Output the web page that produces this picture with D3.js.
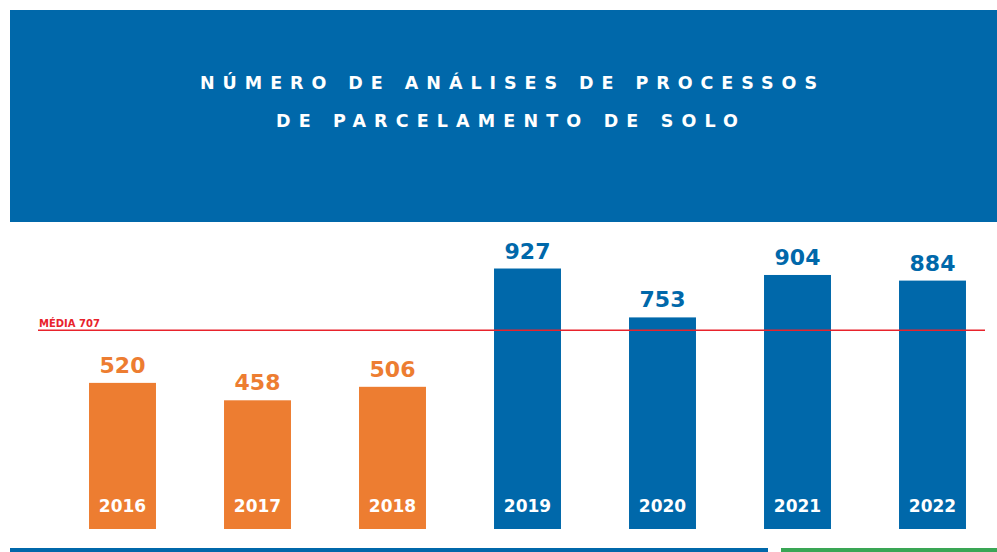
<!DOCTYPE html>
<html>
<head>
<meta charset="utf-8">
<script src="https://cdn.jsdelivr.net/npm/d3@7"></script>
<style>
  html, body { margin: 0; padding: 0; background: #fff; }
  svg { display: block; }
</style>
</head>
<body>
<svg id="chart"></svg>
<script>
var years = ["2016", "2017", "2018", "2019", "2020", "2021", "2022"]
var values = [520, 458, 506, 927, 753, 904, 884]
var average = 707
var titleLines = ["NÚMERO DE ANÁLISES DE PROCESSOS", "DE PARCELAMENTO DE SOLO"]

var w = 997
var h = 552
var blue = "#0068aa"
var orange = "#ed7d31"
var red = "#e8232c"
var font = "'DejaVu Sans', sans-serif"

var svg = d3.select("#chart").attr("width", w).attr("height", h)

// header block
svg.append("rect")
    .attr("x", 10).attr("y", 10)
    .attr("width", w - 10).attr("height", 212)
    .attr("fill", blue)

var titleSpans = [[200, 817, 89], [276, 738, 127]]
svg.selectAll("text.title")
    .data(titleLines)
    .enter().append("text")
    .attr("class", "title")
    .attr("x", function(d, i) { return titleSpans[i][0] })
    .attr("y", function(d, i) { return titleSpans[i][2] })
    .attr("textLength", function(d, i) { return titleSpans[i][1] - titleSpans[i][0] })
    .attr("lengthAdjust", "spacing")
    .attr("fill", "#fff")
    .style("font-family", font)
    .style("font-weight", "bold")
    .style("font-size", "17.5px")
    .text(function(d) { return d })

// scales
var x = d3.scaleBand()
    .domain(years)
    .range([55, 1000])
    .paddingInner(0.504)
    .paddingOuter(0.252)

var y = d3.scaleLinear()
    .domain([0, 1000])
    .range([529, 248])

function barColor(i) { return i < 3 ? orange : blue }

var bars = svg.append("g").attr("class", "bars")

bars.selectAll("rect")
    .data(values)
    .enter().append("rect")
    .attr("x", function(d, i) { return x(years[i]) })
    .attr("y", function(d) { return y(d) })
    .attr("width", x.bandwidth())
    .attr("height", function(d) { return y(0) - y(d) })
    .attr("fill", function(d, i) { return barColor(i) })

// value labels
bars.selectAll("text.val")
    .data(values)
    .enter().append("text")
    .attr("class", "val")
    .attr("x", function(d, i) { return x(years[i]) + x.bandwidth() / 2 })
    .attr("y", function(d) { return y(d) - 10 })
    .attr("text-anchor", "middle")
    .attr("fill", function(d, i) { return barColor(i) })
    .style("font-family", font)
    .style("font-weight", "bold")
    .style("font-size", "22px")
    .text(function(d) { return d })

// year labels inside bars
bars.selectAll("text.year")
    .data(years)
    .enter().append("text")
    .attr("class", "year")
    .attr("x", function(d) { return x(d) + x.bandwidth() / 2 })
    .attr("y", 512)
    .attr("text-anchor", "middle")
    .attr("fill", "#fff")
    .style("font-family", font)
    .style("font-weight", "bold")
    .style("font-size", "17px")
    .text(function(d) { return d })

// average line
svg.append("line")
    .attr("x1", 38).attr("x2", 985)
    .attr("y1", y(average)).attr("y2", y(average))
    .attr("stroke", red)
    .attr("stroke-width", 1.5)

svg.append("text")
    .attr("x", 39)
    .attr("y", y(average) - 3)
    .attr("fill", red)
    .style("font-family", font)
    .style("font-weight", "bold")
    .style("font-size", "10px")
    .text("MÉDIA " + average)

// bottom strips
svg.append("rect").attr("x", 10).attr("y", 548).attr("width", 758).attr("height", 4).attr("fill", blue)
svg.append("rect").attr("x", 781).attr("y", 548).attr("width", 216).attr("height", 4).attr("fill", "#3aa655")
</script>
</body>
</html>
